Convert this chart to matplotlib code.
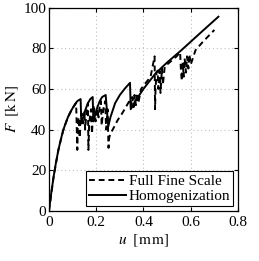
import matplotlib
matplotlib.use("Agg")
import matplotlib.pyplot as plt

# ==========================
# Data
# ==========================

# Homogenization (solid)
u_hom = [0, 0.01, 0.02, 0.03, 0.04, 0.05, 0.06, 0.07, 0.08, 0.09, 0.10, 0.11, 0.12, 0.134,
         0.137, 0.145, 0.155, 0.165, 0.175, 0.185,
         0.188, 0.195, 0.205, 0.215, 0.225, 0.24,
         0.251, 0.26, 0.28, 0.30, 0.32, 0.343,
         0.346, 0.36, 0.40, 0.45, 0.50, 0.56, 0.65, 0.717]
F_hom = [0, 9, 17, 24, 30, 35, 39.5, 43, 46, 48.5, 50.5, 52.5, 54, 55,
         43, 46, 50, 53, 55, 56,
         44, 47, 51, 54, 56, 57,
         41.5, 46, 53, 57, 60, 63,
         50, 53, 60, 67.5, 73, 79, 88.5, 95.5]

# Full fine scale (dashed)
u_ffs = [0, 0.02, 0.04, 0.06, 0.08, 0.10, 0.115, 0.12, 0.122, 0.126, 0.13, 0.133,
         0.138, 0.145, 0.15, 0.153, 0.16, 0.165, 0.167, 0.17, 0.178, 0.182, 0.186,
         0.19, 0.197, 0.205, 0.21, 0.215, 0.22, 0.223, 0.23, 0.238, 0.242, 0.248,
         0.252, 0.255, 0.26, 0.27, 0.29, 0.31, 0.33, 0.345, 0.348, 0.352, 0.358,
         0.362, 0.368, 0.372, 0.378, 0.39, 0.41, 0.43, 0.447, 0.449, 0.451, 0.455,
         0.46, 0.463, 0.468, 0.472, 0.478, 0.482, 0.49, 0.50, 0.52, 0.54, 0.555,
         0.558, 0.562, 0.566, 0.57, 0.574, 0.58, 0.584, 0.59, 0.594, 0.60, 0.62,
         0.65, 0.70]
F_ffs = [0, 17, 30, 39.5, 46, 50.5, 53, 30, 42, 46, 36, 45,
         48, 43, 49, 40, 50, 53, 30, 43, 50, 38, 48,
         52, 44, 50, 46, 52, 54, 42, 50, 54, 40, 50,
         31, 36, 38, 40, 44.5, 48, 52, 55, 50, 56, 51,
         57, 52, 58, 53, 60, 63, 66, 76, 50, 60, 68,
         69, 60, 69, 58, 70, 62, 71, 72, 74, 76, 78,
         70, 64, 73, 66, 75, 68, 76, 70, 77, 72, 79,
         83, 89]

x_ticks = [0, 0.2, 0.4, 0.6, 0.8]
x_labels = ["0", "0.2", "0.4", "0.6", "0.8"]
y_ticks = [0, 20, 40, 60, 80, 100]

# ==========================
# Plot
# ==========================

plt.rcParams["font.family"] = "Liberation Serif"
plt.rcParams["mathtext.fontset"] = "stix"
plt.rcParams["font.size"] = 11

fig = plt.figure(figsize=(2.59, 2.61), dpi=100)
ax = fig.add_axes([0.189, 0.192, 0.730, 0.779])

ax.plot(u_ffs, F_ffs, color="black", linestyle=(0, (3, 2)), linewidth=1.4,
        label="Full Fine Scale")
ax.plot(u_hom, F_hom, color="black", linestyle="-", linewidth=1.4,
        label="Homogenization")

ax.set_xlim(0, 0.8)
ax.set_ylim(0, 100)
ax.set_xticks(x_ticks)
ax.set_yticks(y_ticks)
ax.set_xticklabels(x_labels)
ax.set_yticklabels([str(t) for t in y_ticks])

ax.grid(True, linestyle=(0, (1, 2.5)), color="#c0c0c0", linewidth=0.8)
ax.tick_params(direction="in", top=True, right=True, length=3)
ax.tick_params(axis="x", pad=4)
ax.tick_params(axis="y", pad=2)
for s in ax.spines.values():
    s.set_linewidth(0.9)

ax.set_xlabel(r"$u\ \ [\mathrm{m\,m}]$", labelpad=2)
ax.set_ylabel(r"$F\ \ [\mathrm{k\,N}]$", labelpad=2)

leg = ax.legend(loc="lower right", fancybox=False, edgecolor="black",
                framealpha=1, borderaxespad=0.3, handlelength=2.4,
                handletextpad=0.2, borderpad=0.2, labelspacing=0.1)
leg.get_frame().set_linewidth(0.8)

fig.savefig("out.png", dpi=100)
